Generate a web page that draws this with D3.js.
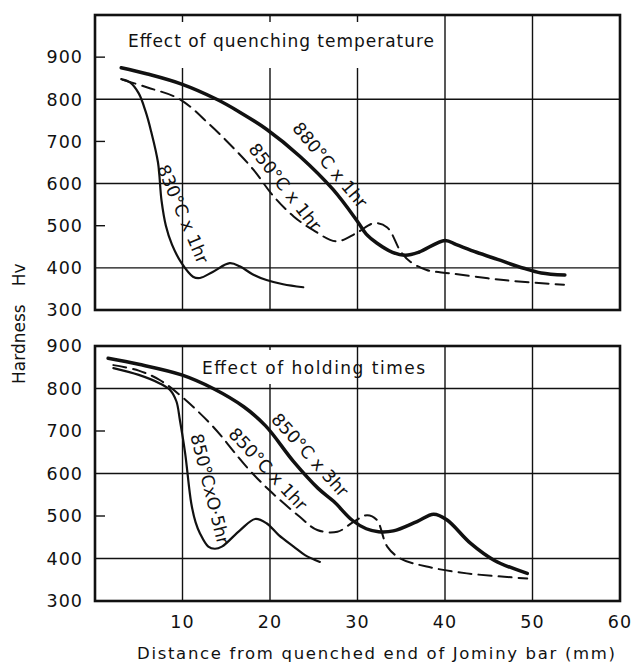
<!DOCTYPE html>
<html>
<head>
<meta charset="utf-8">
<script src="https://cdn.jsdelivr.net/npm/d3@7"></script>
<style>
  body { margin: 0; background: #fff; }
  text { font-family: "DejaVu Sans", sans-serif; fill: #111; }
</style>
</head>
<body>
<div id="chart"></div>
<script>
// Data: [distance mm, hardness Hv]
const quench880 = [[3,875],[6,860],[9.9,836],[13.9,800],[16.5,770],[19.6,729],[23.4,665],[27.2,586],[30,510],[31,480],[32.2,459],[34,437],[35.5,430],[37,437],[40,465],[41.3,455],[43.6,437],[46,420],[49,399],[51,388],[53.7,383]];
const quench850 = [[3.2,846],[6,828],[9.7,800],[13.1,740],[15.8,685],[18.1,633],[20.4,570],[22.7,522],[24.9,490],[27.6,463],[29.9,483],[31.9,506],[33.4,496],[34.9,440],[36,415],[37.9,395],[40.6,387],[46.7,371],[53.6,360]];
const quench830 = [[3,848],[4,840],[5,814],[5.8,770],[6.4,725],[7.2,650],[7.6,560],[8.1,500],[8.8,455],[9.9,411],[11.2,379],[12,376],[13.5,391],[15.4,411],[16.6,403],[18,385],[19.6,371],[21.5,361],[23.8,354]];

const hold3 = [[1.5,871],[5,857],[9.9,832],[13.5,800],[17,757],[19.5,712],[22.7,628],[25.5,565],[27.3,534],[29.4,490],[31,470],[32.4,463],[34.1,465],[36.8,487],[38.7,504],[40.2,491],[42.9,436],[45.6,396],[49.4,365]];
const hold1 = [[2.1,855],[5,842],[7.4,820],[9.9,781],[13.5,710],[17.3,616],[19.9,561],[23.4,498],[25.4,467],[27.7,463],[29.6,487],[31.1,502],[32.2,491],[33.4,428],[34.9,400],[37.9,381],[42.5,365],[49.4,353]];
const hold05 = [[2.1,848],[5,832],[7.4,812],[8.6,796],[9.3,770],[9.7,726],[10.3,648],[11,530],[11.5,485],[12,459],[12.95,428],[13.7,423],[14.5,428],[16.6,467],[18.3,493],[19.6,483],[21,455],[22.7,428],[24,408],[25.7,392]];

const xTicks = [10, 20, 30, 40, 50, 60];
const yTicks = [300, 400, 500, 600, 700, 800, 900];
const yGrid = [400, 600, 800];
const yMinor = [500, 700, 900];

const width = 637, height = 664;
const svg = d3.select("#chart").append("svg")
  .attr("width", width)
  .attr("height", height);

const x = d3.scaleLinear().domain([0, 60]).range([95, 620]);

const panels = [
  {
    y: d3.scaleLinear().domain([300, 1000]).range([310, 15]),
    title: "Effect of quenching temperature",
    titlePos: [128, 47, 306],
    mask: [120, 22, 320, 46],
    series: [
      { data: quench880, w: 3.5, dash: null },
      { data: quench850, w: 2, dash: "13,7" },
      { data: quench830, w: 2.2, dash: null }
    ],
    labels: [
      { text: "880°C x 1hr", x: 330, y: 165, a: 50 },
      { text: "850°C x 1hr", x: 285, y: 187, a: 52 },
      { text: "830°C x 1hr", x: 183, y: 214, a: 67 }
    ]
  },
  {
    y: d3.scaleLinear().domain([300, 900]).range([601, 346]),
    title: "Effect of holding times",
    titlePos: [202, 374, 223],
    mask: [195, 350, 150, 34],
    series: [
      { data: hold3, w: 3.5, dash: null },
      { data: hold1, w: 2, dash: "13,7" },
      { data: hold05, w: 2.2, dash: null }
    ],
    labels: [
      { text: "850°C x 3hr", x: 310, y: 455, a: 48 },
      { text: "850°C x 1hr", x: 268, y: 469, a: 47 },
      { text: "850°CxO·5hr", x: 210, y: 489, a: 76 }
    ]
  }
];

panels.forEach(p => {
  const g = svg.append("g");
  const [y0, y1] = p.y.range();

  // vertical grid
  g.selectAll(".vgrid").data(xTicks.slice(0, 5)).join("line")
    .attr("x1", d => x(d)).attr("x2", d => x(d))
    .attr("y1", y1).attr("y2", y0)
    .attr("stroke", "#111").attr("stroke-width", 1.4);

  // horizontal grid
  g.selectAll(".hgrid").data(yGrid).join("line")
    .attr("x1", x(0)).attr("x2", x(60))
    .attr("y1", d => p.y(d)).attr("y2", d => p.y(d))
    .attr("stroke", "#111").attr("stroke-width", 1.4);

  // short ticks
  g.selectAll(".tick").data(yMinor).join("line")
    .attr("x1", x(0)).attr("x2", x(0) + 10)
    .attr("y1", d => p.y(d)).attr("y2", d => p.y(d))
    .attr("stroke", "#111").attr("stroke-width", 1.4);

  // white box behind the title
  g.append("rect")
    .attr("x", p.mask[0]).attr("y", p.mask[1])
    .attr("width", p.mask[2]).attr("height", p.mask[3])
    .attr("fill", "#fff");

  g.append("text")
    .attr("x", p.titlePos[0]).attr("y", p.titlePos[1])
    .attr("textLength", p.titlePos[2])
    .attr("font-size", 17)
    .text(p.title);

  // frame
  g.append("rect")
    .attr("x", x(0)).attr("y", y1)
    .attr("width", x(60) - x(0)).attr("height", y0 - y1)
    .attr("fill", "none").attr("stroke", "#111").attr("stroke-width", 2.6);

  // y labels
  g.selectAll(".ylab").data(yTicks).join("text")
    .attr("x", 83).attr("y", d => p.y(d))
    .attr("dy", "0.36em")
    .attr("text-anchor", "end")
    .attr("font-size", 17.5)
    .attr("letter-spacing", 1)
    .text(d => d);

  const line = d3.line()
    .x(d => x(d[0])).y(d => p.y(d[1]))
    .curve(d3.curveCatmullRom.alpha(0.5));

  p.series.forEach(s => {
    g.append("path")
      .attr("d", line(s.data))
      .attr("fill", "none")
      .attr("stroke", "#111")
      .attr("stroke-width", s.w)
      .attr("stroke-dasharray", s.dash)
      .attr("stroke-linecap", "round")
      .attr("stroke-linejoin", "round");
  });

  p.labels.forEach(l => {
    g.append("text")
      .attr("transform", `translate(${l.x},${l.y}) rotate(${l.a})`)
      .attr("text-anchor", "middle")
      .attr("dy", "0.35em")
      .attr("font-size", 17.5)
      .text(l.text);
  });
});

// x tick labels
svg.selectAll(".xlab").data(xTicks).join("text")
  .attr("x", d => x(d)).attr("y", 622)
  .attr("dy", "0.36em")
  .attr("text-anchor", "middle")
  .attr("font-size", 17.5)
  .attr("letter-spacing", 1)
  .text(d => d);

svg.append("text")
  .attr("x", 137).attr("y", 659)
  .attr("textLength", 478)
  .attr("font-size", 16.5)
  .text("Distance from quenched end of Jominy bar (mm)");

// y axis title
const yt = svg.append("text")
  .attr("transform", "translate(25,384) rotate(-90)")
  .attr("font-size", 17);
yt.append("tspan").text("Hardness");
yt.append("tspan").attr("dx", 18).text("Hv");
</script>
</body>
</html>
